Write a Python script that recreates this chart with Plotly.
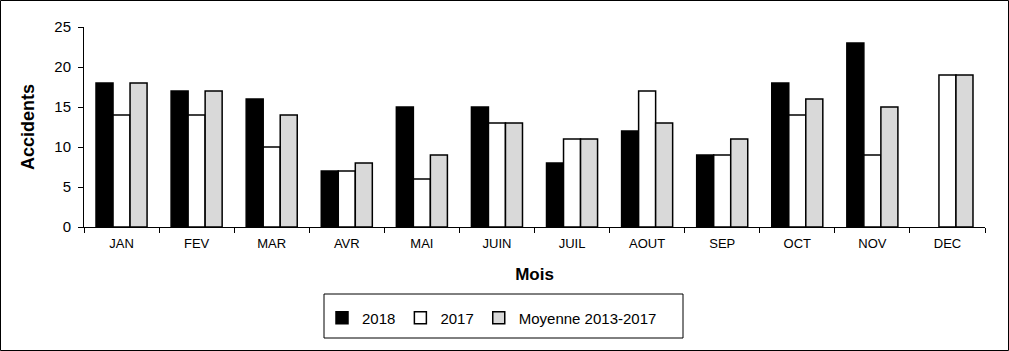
import plotly.graph_objects as go

months = ["JAN", "FEV", "MAR", "AVR", "MAI", "JUIN", "JUIL", "AOUT", "SEP", "OCT", "NOV", "DEC"]
v2018 = [18, 17, 16, 7, 15, 15, 8, 12, 9, 18, 23, None]
v2017 = [14, 14, 10, 7, 6, 13, 11, 17, 9, 14, 9, 19]
vmoy = [18, 17, 14, 8, 9, 13, 11, 13, 11, 16, 15, 19]

W, H = 1009, 351
L, R, T, B = 84, 24, 27, 124
pw, ph = W - L - R, H - T - B

def px(x):
    return (x - L) / pw

def py(y):
    return (H - B - y) / ph

line = dict(color="black", width=1.5)
fig = go.Figure()
fig.add_bar(x=months, y=v2018, name="2018", marker=dict(color="black", line=line))
fig.add_bar(x=months, y=v2017, name="2017", marker=dict(color="white", line=line))
fig.add_bar(x=months, y=vmoy, name="Moyenne 2013-2017", marker=dict(color="#d9d9d9", line=line))

font = "Liberation Sans, Arial, sans-serif"
fig.update_layout(
    width=W, height=H,
    margin=dict(l=L, r=R, t=T, b=B),
    paper_bgcolor="white", plot_bgcolor="white",
    barmode="group", bargap=0.32, bargroupgap=0,
    font=dict(family=font, color="black"),
    showlegend=True,
    legend=dict(orientation="h", x=px(492), xanchor="center", y=py(318), yanchor="middle",
                font=dict(size=15, color="black"), bgcolor="rgba(0,0,0,0)",
                itemwidth=30, tracegroupgap=0),
    shapes=[
        dict(type="rect", xref="paper", yref="paper",
             x0=px(324), x1=px(683), y0=py(294), y1=py(338),
             line=dict(color="black", width=1), fillcolor="rgba(0,0,0,0)"),
        dict(type="rect", xref="paper", yref="paper",
             x0=px(0.5), x1=px(1008.5), y0=py(0.5), y1=py(350.5),
             line=dict(color="black", width=1), fillcolor="rgba(0,0,0,0)"),
    ],
)
fig.update_xaxes(
    showline=True, linecolor="black", linewidth=1, mirror=False,
    ticks="outside", ticklen=5, tickcolor="black", tickson="boundaries",
    ticklabelstandoff=4,
    tickfont=dict(size=13, color="black"), showgrid=False,
    title=dict(text="<b>Mois</b>", font=dict(size=17, color="black"), standoff=18),
)
fig.update_yaxes(
    range=[0, 25], dtick=5, showline=True, linecolor="black", linewidth=1,
    ticks="outside", ticklen=5, tickcolor="black", ticklabelstandoff=4,
    tickfont=dict(size=15, color="black"), showgrid=False, zeroline=False,
    title=dict(text="<b>Accidents</b>", font=dict(size=18, color="black"), standoff=15),
)
fig.write_html("out.html")
